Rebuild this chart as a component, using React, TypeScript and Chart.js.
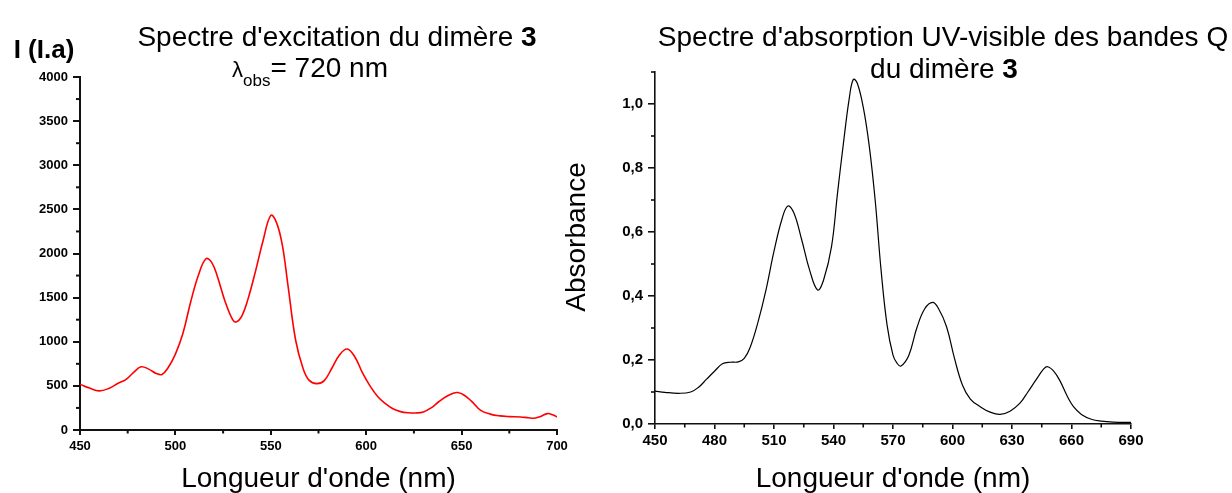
import React, { useEffect, useRef } from 'react';
import { Chart, registerables } from 'chart.js';

Chart.register(...registerables);

// ---------- Data ----------
const excWavelengths = [450, 455, 460, 465, 470, 474, 478, 482, 486, 490, 493, 496, 500, 504, 508, 512, 516, 519, 522, 526, 530, 532, 535, 538, 542, 546, 550, 553, 556, 559, 563, 567, 570, 574, 578, 582, 586, 590, 594, 598, 602, 606, 610, 614, 618, 622, 626, 630, 634, 638, 642, 646, 648, 651, 655, 660, 665, 670, 675, 681, 685, 688, 691, 695, 698, 700];
const excIntensity = [519, 475, 443, 470, 530, 570, 650, 716, 690, 640, 630, 700, 860, 1100, 1450, 1750, 1940, 1900, 1740, 1460, 1250, 1225, 1300, 1480, 1800, 2150, 2432, 2350, 2100, 1640, 1020, 690, 565, 526, 560, 700, 850, 917, 830, 650, 500, 380, 300, 240, 208, 195, 193, 205, 250, 320, 380, 420, 424, 400, 330, 223, 180, 160, 152, 148, 138, 133, 150, 186, 170, 148];

const absWavelengths = [450, 455, 462, 468, 472, 476, 480, 484, 488, 492, 495, 498, 502, 506, 510, 514, 517, 520, 524, 528, 532, 535, 539, 542, 545, 548, 550, 552, 555, 558, 561, 564, 567, 570, 572, 574, 578, 582, 586, 590, 593, 597, 601, 605, 609, 614, 619, 624, 629, 634, 638, 642, 646, 648, 651, 654, 658, 661, 665, 670, 675, 681, 690];
const absValues = [0.103, 0.099, 0.096, 0.100, 0.115, 0.140, 0.165, 0.188, 0.193, 0.194, 0.205, 0.240, 0.320, 0.420, 0.540, 0.640, 0.681, 0.660, 0.575, 0.480, 0.419, 0.450, 0.554, 0.720, 0.877, 1.020, 1.077, 1.065, 0.990, 0.870, 0.700, 0.480, 0.310, 0.215, 0.190, 0.181, 0.215, 0.300, 0.360, 0.380, 0.360, 0.304, 0.205, 0.122, 0.078, 0.054, 0.037, 0.030, 0.040, 0.065, 0.100, 0.137, 0.172, 0.179, 0.165, 0.137, 0.085, 0.054, 0.030, 0.015, 0.009, 0.006, 0.005];

const excXTicks = [450, 500, 550, 600, 650, 700];
const excXMinor = [475, 525, 575, 625, 675];
const excYTicks = [0, 500, 1000, 1500, 2000, 2500, 3000, 3500, 4000];
const excYMinor = [250, 750, 1250, 1750, 2250, 2750, 3250, 3750];

const absXTicks = [450, 480, 510, 540, 570, 600, 630, 660, 690];
const absXMinor = [465, 495, 525, 555, 585, 615, 645, 675];
const absYTicks = [0, 0.2, 0.4, 0.6, 0.8, 1.0];
const absYMinor = [0.1, 0.3, 0.5, 0.7, 0.9, 1.1];

const FONT = '"Liberation Sans", Arial, Helvetica, sans-serif';
const W = 1232;
const H = 493;

type Seg = { text: string; font: string; dy?: number };

function drawRich(ctx: CanvasRenderingContext2D, segs: Seg[], cx: number, baseline: number) {
  let total = 0;
  const widths: number[] = [];
  segs.forEach((s) => {
    ctx.font = s.font;
    const w = ctx.measureText(s.text).width;
    widths.push(w);
    total += w;
  });
  let x = cx - total / 2;
  ctx.textAlign = 'left';
  ctx.textBaseline = 'alphabetic';
  segs.forEach((s, i) => {
    ctx.font = s.font;
    ctx.fillText(s.text, x, baseline + (s.dy || 0));
    x += widths[i];
  });
}

const minorTicksPlugin = {
  id: 'minorTicks',
  afterDraw(chart: any, _args: any, opts: any) {
    const ctx = chart.ctx as CanvasRenderingContext2D;
    const xs = chart.scales.x;
    const ys = chart.scales.y;
    const area = chart.chartArea;
    ctx.save();
    ctx.strokeStyle = opts.color || '#000';
    ctx.lineWidth = opts.width || 1.5;
    (opts.x || []).forEach((v: number) => {
      const px = xs.getPixelForValue(v);
      ctx.beginPath();
      ctx.moveTo(px, area.bottom);
      ctx.lineTo(px, area.bottom + opts.xLen);
      ctx.stroke();
    });
    (opts.y || []).forEach((v: number) => {
      const py = ys.getPixelForValue(v);
      ctx.beginPath();
      ctx.moveTo(area.left, py);
      ctx.lineTo(area.left - opts.yLen, py);
      ctx.stroke();
    });
    ctx.restore();
  },
};

const textsPlugin = {
  id: 'texts',
  afterDraw(chart: any, _args: any, opts: any) {
    const ctx = chart.ctx as CanvasRenderingContext2D;
    ctx.save();
    ctx.fillStyle = '#000';
    (opts.lines || []).forEach((l: any) => {
      if (l.rotate) {
        ctx.save();
        ctx.translate(l.cx, l.cy);
        ctx.rotate(-Math.PI / 2);
        ctx.font = l.segs[0].font;
        ctx.textAlign = 'center';
        ctx.textBaseline = 'middle';
        ctx.fillText(l.segs[0].text, 0, 0);
        ctx.restore();
      } else {
        drawRich(ctx, l.segs, l.cx, l.baseline);
      }
    });
    ctx.restore();
  },
};

function makeConfig(opts: {
  xs: number[];
  ys: number[];
  color: string;
  lineWidth: number;
  xMin: number;
  xMax: number;
  yMin: number;
  yMax: number;
  xTicks: number[];
  yTicks: number[];
  xMinor: number[];
  yMinor: number[];
  padding: { left: number; top: number; right: number; bottom: number };
  yWidth: number;
  xHeight: number;
  tickFont: number;
  xTickPad: number;
  yTickPad: number;
  yFormat: (v: number) => string;
  axisWidth: number;
  lines: any[];
}) {
  const data = opts.xs.map((x, i) => ({ x, y: opts.ys[i] }));
  return {
    type: 'line' as const,
    data: {
      datasets: [
        {
          data,
          borderColor: opts.color,
          borderWidth: opts.lineWidth,
          pointRadius: 0,
          fill: false,
          tension: 0.4,
        },
      ],
    },
    options: {
      responsive: false,
      animation: false as const,
      devicePixelRatio: 1,
      layout: { padding: opts.padding, autoPadding: false },
      plugins: {
        legend: { display: false },
        title: { display: false },
        tooltip: { enabled: false },
        minorTicks: {
          x: opts.xMinor,
          y: opts.yMinor,
          xLen: 3.5,
          yLen: 4,
          width: opts.axisWidth,
          color: '#111',
        },
        texts: { lines: opts.lines },
      },
      scales: {
        x: {
          type: 'linear' as const,
          min: opts.xMin,
          max: opts.xMax,
          afterBuildTicks: (scale: any) => {
            scale.ticks = opts.xTicks.map((v) => ({ value: v }));
          },
          afterFit: (scale: any) => {
            scale.height = opts.xHeight;
          },
          grid: {
            display: true,
            drawOnChartArea: false,
            drawTicks: true,
            tickLength: 5,
            color: '#111',
            lineWidth: opts.axisWidth,
          },
          border: { display: true, color: '#111', width: opts.axisWidth },
          ticks: {
            color: '#000',
            font: { family: FONT, size: opts.tickFont, weight: 'bold' as const },
            padding: opts.xTickPad,
            maxRotation: 0,
            autoSkip: false,
            callback: (v: any) => String(v),
          },
          title: {
            display: true,
            text: "Longueur d'onde (nm)",
            color: '#000',
            font: { family: FONT, size: 28, lineHeight: 1.0 },
            padding: { top: 0, bottom: 0 },
          },
        },
        y: {
          type: 'linear' as const,
          min: opts.yMin,
          max: opts.yMax,
          afterBuildTicks: (scale: any) => {
            scale.ticks = opts.yTicks.map((v) => ({ value: v }));
          },
          afterFit: (scale: any) => {
            scale.width = opts.yWidth;
          },
          grid: {
            display: true,
            drawOnChartArea: false,
            drawTicks: true,
            tickLength: 7,
            color: '#111',
            lineWidth: opts.axisWidth,
          },
          border: { display: true, color: '#111', width: opts.axisWidth },
          ticks: {
            color: '#000',
            font: { family: FONT, size: opts.tickFont, weight: 'bold' as const },
            padding: opts.yTickPad,
            autoSkip: false,
            callback: (v: any) => opts.yFormat(Number(v)),
          },
        },
      },
    },
    plugins: [minorTicksPlugin, textsPlugin],
  };
}

export default function App() {
  const leftRef = useRef<HTMLCanvasElement>(null);
  const rightRef = useRef<HTMLCanvasElement>(null);

  useEffect(() => {
    const titleFont = `28px ${FONT}`;
    const titleBold = `bold 28px ${FONT}`;

    const leftCfg = makeConfig({
      xs: excWavelengths,
      ys: excIntensity,
      color: '#ff0000',
      lineWidth: 1.6,
      xMin: 450,
      xMax: 700,
      yMin: 0,
      yMax: 4000,
      xTicks: excXTicks,
      yTicks: excYTicks,
      xMinor: excXMinor,
      yMinor: excYMinor,
      padding: { left: 0, top: 77, right: W - 557, bottom: 0 },
      yWidth: 80,
      xHeight: H - 430,
      tickFont: 13,
      xTickPad: 4,
      yTickPad: 5,
      yFormat: (v) => String(Math.round(v)),
      axisWidth: 2,
      lines: [
        { segs: [{ text: 'I (I.a)', font: `bold 26px ${FONT}` }], cx: 44, baseline: 58 },
        {
          segs: [
            { text: "Spectre d'excitation du dimère ", font: titleFont },
            { text: '3', font: titleBold },
          ],
          cx: 337,
          baseline: 46,
        },
        {
          segs: [
            { text: 'λ', font: `22px ${FONT}` },
            { text: 'obs', font: `17px ${FONT}`, dy: 9 },
            { text: '= 720 nm', font: titleFont },
          ],
          cx: 310,
          baseline: 77,
        },
      ],
    });

    const rightCfg = makeConfig({
      xs: absWavelengths,
      ys: absValues,
      color: '#000000',
      lineWidth: 1.2,
      xMin: 450,
      xMax: 690,
      yMin: 0,
      yMax: 1.1,
      xTicks: absXTicks,
      yTicks: absYTicks,
      xMinor: absXMinor,
      yMinor: absYMinor,
      padding: { left: 0, top: 72, right: W - 1131, bottom: 0 },
      yWidth: 655,
      xHeight: H - 424,
      tickFont: 15,
      xTickPad: 3,
      yTickPad: 5,
      yFormat: (v) => v.toFixed(1).replace('.', ','),
      axisWidth: 1.6,
      lines: [
        {
          segs: [{ text: "Spectre d'absorption UV-visible des bandes Q", font: titleFont }],
          cx: 943,
          baseline: 46,
        },
        {
          segs: [
            { text: 'du dimère ', font: titleFont },
            { text: '3', font: titleBold },
          ],
          cx: 944,
          baseline: 78,
        },
        { rotate: true, segs: [{ text: 'Absorbance', font: `28px ${FONT}` }], cx: 577, cy: 237 },
      ],
    });

    const left = new Chart(leftRef.current as HTMLCanvasElement, leftCfg as any);
    const right = new Chart(rightRef.current as HTMLCanvasElement, rightCfg as any);
    return () => {
      left.destroy();
      right.destroy();
    };
  }, []);

  const canvasStyle: React.CSSProperties = {
    position: 'absolute',
    left: 0,
    top: 0,
    width: W,
    height: H,
  };

  return (
    <div style={{ position: 'absolute', left: 0, top: 0, width: W, height: H, background: '#fff', overflow: 'hidden' }}>
      <canvas ref={leftRef} width={W} height={H} style={canvasStyle} />
      <canvas ref={rightRef} width={W} height={H} style={canvasStyle} />
    </div>
  );
}
